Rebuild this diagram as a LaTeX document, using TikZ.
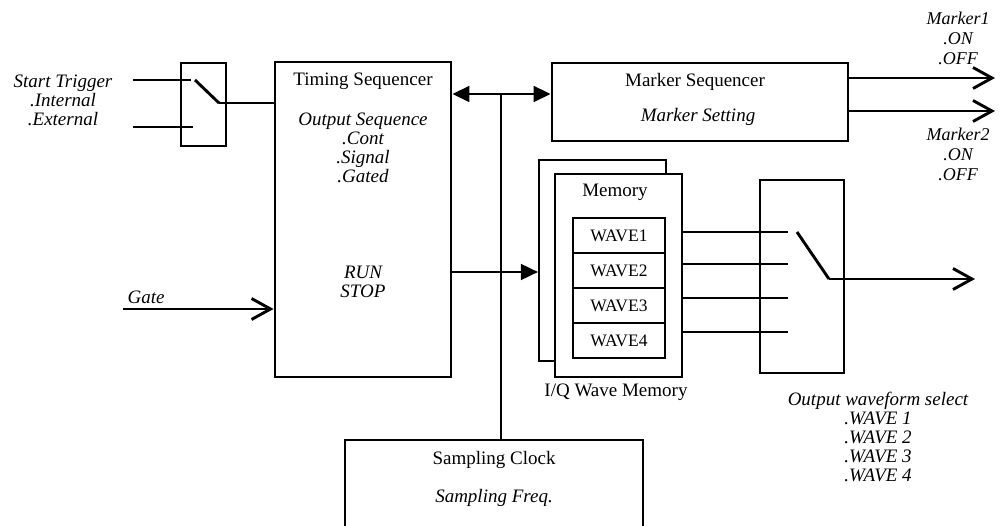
\documentclass[tikz,border=0pt]{standalone}
\usepackage{fontspec}
\setmainfont{Liberation Serif}
\usepackage{tikz}
\usetikzlibrary{positioning, arrows.meta}
\tikzset{
  >={Triangle[length=17pt, width=16pt]},
  box/.style={
    draw=black, line width=2.9pt, rectangle, inner sep=0pt
  },
  membox/.style={
    draw=black, line width=2.2pt, rectangle, inner sep=0pt, fill=white
  },
  wavebox/.style={
    draw=black, line width=2.9pt, rectangle, inner sep=0pt, fill=white,
    minimum width=92pt, minimum height=35pt,
    font=\fontsize{17.5}{19}\selectfont
  },
  lbl/.style={
    font=\fontsize{19}{19}\selectfont, align=center, inner sep=0pt
  },
  ilbl/.style={
    font=\fontsize{19}{19}\selectfont\itshape, align=center, inner sep=0pt
  },
  wire/.style={
    line width=2.9pt
  },
  twire/.style={
    line width=1.8pt
  },
  barb/.style={
    -{Straight Barb[length=19pt, width=21pt]}
  },
}

\begin{document}
\begin{tikzpicture}[x=1pt, y=-1pt]
\useasboundingbox (0,0) rectangle (1003,526);

% blocks (pixel coordinates, y downwards)
\node[box, minimum width=176pt, minimum height=315pt] (timing) at (363, 219.5) {};
\node[box, minimum width=45pt,  minimum height=83pt]  (trigsw) at (203.5, 104.5) {};
\node[box, minimum width=296pt, minimum height=78pt]  (marker) at (700, 102) {};
\node[membox, minimum width=127pt, minimum height=201pt] (memback)  at (602.5, 260.5) {};
\node[membox, minimum width=127pt, minimum height=203pt] (memfront) at (618.5, 275.5) {};
\node[box, minimum width=84pt, minimum height=193pt]  (outsw)  at (802, 276.5) {};
\node[box, minimum width=298pt, minimum height=120pt] (clock)  at (494, 500) {};

\foreach \i in {1,...,4} {
  \node[wavebox] (wave\i) at (619, 218 + 35*\i - 17.5) {WAVE\i};
}

% texts
\node[ilbl] (trigtxt)  at (63, 100)  {Start Trigger\\.Internal\\.External};
\node[lbl]  (timtitle) at (363, 81)  {Timing Sequencer};
\node[ilbl] (seqtxt)   at (363, 148) {Output Sequence\\.Cont\\.Signal\\.Gated};
\node[ilbl] (runtxt)   at (363, 282) {RUN\\STOP};
\node[ilbl] (gatetxt)  at (146, 297) {Gate};
\node[lbl]  (mktitle)  at (695, 82)  {Marker Sequencer};
\node[ilbl] (mkset)    at (698, 117) {Marker Setting};
\node[ilbl, font=\fontsize{18}{20}\selectfont\itshape] (mk1txt) at (958, 38)  {Marker1\\.ON\\.OFF};
\node[ilbl, font=\fontsize{18}{20}\selectfont\itshape] (mk2txt) at (958, 154) {Marker2\\.ON\\.OFF};
\node[lbl]  (memtitle) at (615, 192) {Memory};
\node[lbl]  (iqtxt)    at (616, 392) {I/Q Wave Memory};
\node[ilbl] (seltxt)   at (878, 437) {Output waveform select\\.WAVE 1\\.WAVE 2\\.WAVE 3\\.WAVE 4};
\node[lbl]  (clktitle) at (494, 460) {Sampling Clock};
\node[ilbl] (clkfreq)  at (494, 498) {Sampling Freq.};

% start trigger switch
\coordinate (trigIn1) at (133, 80);
\coordinate (trigIn2) at (133, 127);
\coordinate (trigC1)  at (191, 80);
\coordinate (trigC2)  at (193, 127);
\coordinate (trigPv)  at (219, 103);
\draw[wire] (trigIn1) -- (trigC1);
\draw[wire] (trigIn2) -- (trigC2);
\draw[wire] (195, 80) -- (trigPv);
\draw[wire] (trigPv) -- (timing.west |- trigPv);

% gate input
\coordinate (gateIn) at (123, 309);
\draw[wire, barb] (gateIn) -- (timing.west |- gateIn);

% control bus
\coordinate (busT) at (501, 94);
\draw[twire, ->] (busT) -- (timing.east |- busT);
\draw[twire, ->] (busT) -- (marker.west |- busT);
\draw[twire] (busT) -- (clock.north -| busT);

% timing -> memory
\coordinate (memIn) at (0, 272);
\draw[twire, ->] (timing.east |- memIn) -- (memback.west |- memIn);

% marker outputs
\coordinate (mk1end) at (995, 78);
\coordinate (mk2end) at (995, 111);
\draw[wire, barb] (marker.east |- mk1end) -- (mk1end);
\draw[wire, barb] (marker.east |- mk2end) -- (mk2end);

% wave taps -> output select
\foreach \i/\y in {1/232, 2/264, 3/298, 4/332} {
  \coordinate (tap\i) at (788, \y);
  \draw[line width=2.4pt] (memfront.east |- tap\i) -- (tap\i);
}
\coordinate (outPv)  at (829, 279);
\coordinate (outEnd) at (975, 279);
\draw[wire] (797, 232) -- (outPv);
\draw[wire, barb] (outPv) -- (outEnd);

\end{tikzpicture}
\end{document}
